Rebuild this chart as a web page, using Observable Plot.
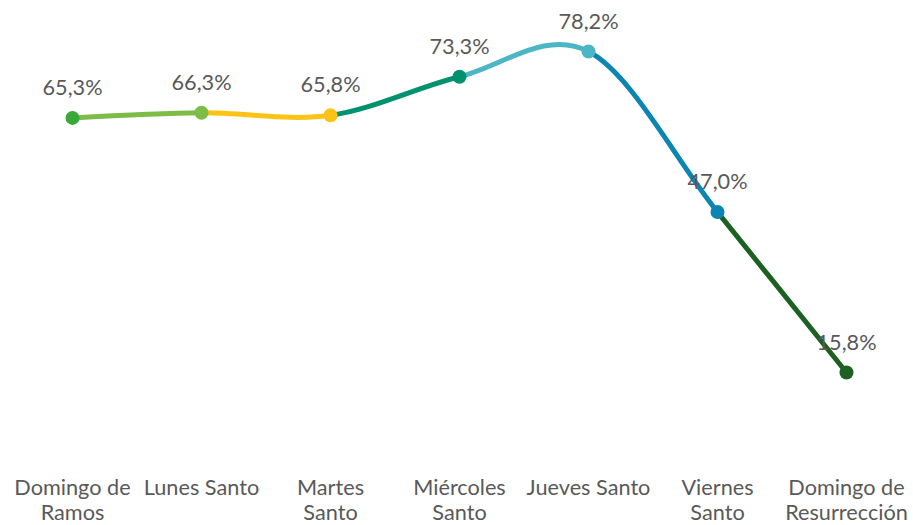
<!DOCTYPE html>
<html>
<head>
<meta charset="utf-8">
<script src="https://cdn.jsdelivr.net/npm/d3@7"></script>
<script src="https://cdn.jsdelivr.net/npm/@observablehq/plot@0.6"></script>
<style>
  html, body { margin: 0; padding: 0; background: #ffffff; }
</style>
</head>
<body>
<div id="chart"></div>
<script>
const categories = [
  "Domingo de\nRamos",
  "Lunes Santo",
  "Martes\nSanto",
  "Miércoles\nSanto",
  "Jueves Santo",
  "Viernes\nSanto",
  "Domingo de\nResurrección"
];
const values = [65.3, 66.3, 65.8, 73.3, 78.2, 47.0, 15.8];
const pointColors = ["#38a838", "#7cbc47", "#fbc315", "#00926f", "#4cb6c5", "#0b85b1", "#1d6122"];
const segmentColors = ["#7cbc47", "#fbc315", "#00926f", "#4cb6c5", "#0b85b1", "#1d6122"];

const rows = categories.map((day, i) => ({day, value: values[i], color: pointColors[i]}));
const fmt = v => v.toFixed(1).replace(".", ",") + "%";
const FONT = "Lato, 'Open Sans', sans-serif";

function clipTo(i) {
  return function (index, scales, vals, dimensions, context, next) {
    const g = next(index, scales, vals, dimensions, context);
    const x0 = scales.x(categories[i]);
    const x1 = scales.x(categories[i + 1]);
    const id = "seg-clip-" + i;
    const wrap = d3.create("svg:g");
    wrap.append("clipPath").attr("id", id)
      .append("rect")
      .attr("x", x0).attr("y", 0)
      .attr("width", x1 - x0).attr("height", dimensions.height);
    g.setAttribute("clip-path", `url(#${id})`);
    wrap.node().appendChild(g);
    return wrap.node();
  };
}

const lines = segmentColors.map((c, i) =>
  Plot.line(rows, {
    x: "day", y: "value",
    stroke: c, strokeWidth: 5,
    curve: "cardinal", tension: 0,
    render: clipTo(i)
  })
);

const chart = Plot.plot({
  width: 913,
  height: 525,
  marginLeft: 6.3,
  marginRight: 1.3,
  marginTop: 41.8,
  marginBottom: 71.7,
  style: {fontFamily: FONT, background: "#ffffff", color: "#595959"},
  x: {type: "point", domain: categories, padding: 0.5, label: null},
  y: {domain: [0, 80], axis: null},
  color: {type: "identity"},
  marks: [
    ...lines,
    Plot.dot(rows, {x: "day", y: "value", fill: "color", r: 7, stroke: "none"}),
    Plot.text(rows, {
      x: "day", y: "value", text: d => fmt(d.value),
      dy: -23, lineAnchor: "bottom",
      fontSize: 21.7, fontFamily: FONT, fill: "#595959"
    }),
    Plot.axisX({
      tickSize: 0, tickPadding: 24,
      fontSize: 21.7, fontFamily: FONT, fill: "#595959",
      lineHeight: 1.14, label: null
    })
  ]
});
document.getElementById("chart").appendChild(chart);
</script>
</body>
</html>
